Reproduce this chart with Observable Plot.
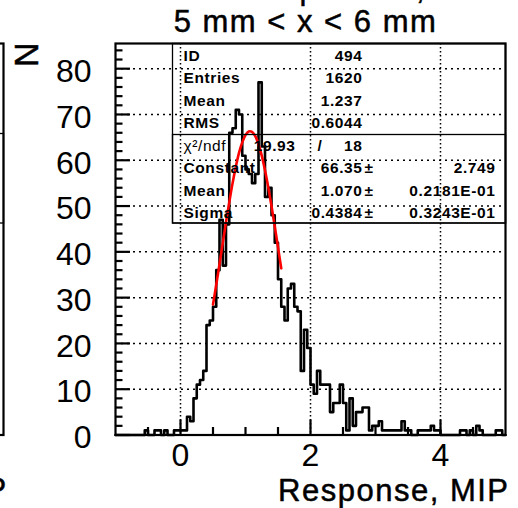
<!DOCTYPE html>
<html><head><meta charset="utf-8">
<script src="https://cdn.jsdelivr.net/npm/d3@7"></script>
<script src="https://cdn.jsdelivr.net/npm/@observablehq/plot@0.6"></script>
<style>html,body{margin:0;padding:0;background:#fff;} #chart{position:relative;width:518px;height:508px} #chart svg{display:block} #ticks{position:absolute;left:0;top:0;pointer-events:none}</style>
</head><body><div id="chart"><div id="ticks"></div></div>
<script>
// ---- data ----
const title = "5 mm < x < 6 mm";
const xLabel = "Response, MIP";
const yLabel = "N";
const binStart = -1;
const binWidth = 0.05;
const counts = [
  0,0,0,0,0,0,0,0,0,1, 0,0,1,1,0,1,0,0,1,1,
  1,1,4,3,8,11,12,14,24,25,
  28,36,47,37,46,66,67,71,70,61,
  58,57,55,57,77,63,52,54,48,42,
  34,28,25,32,33,28,27,14,23,19,
  11,9,14,11,11,11,5,7,7,11,
  7,1,8,2,5,5,6,6,1,2,
  2,3,1,1,1,1,1,1,3,1,
  1,0,0,1,1,1,1,2,1,1,
  0,0,0,0,0,0,1,1,0,1,
  0,2,1,0,0,0,0,1,1,0
];
const fitX = [0.50,0.55,0.60,0.65,0.70,0.75,0.80,0.85,0.90,0.95,1.00,1.05,1.10,1.15,1.20,1.25,1.30,1.35,1.40,1.45,1.50,1.55];
const fitY = [28.5,32.8,37.3,41.9,46.5,50.8,54.9,58.5,61.6,63.9,65.5,66.3,66.2,65.3,63.5,61.0,57.8,54.1,50.0,45.6,41.0,36.4];
const xMajorTicks = [0, 2, 4];
const xMinorTicks = [-0.5, 0.5, 1, 1.5, 2.5, 3, 3.5, 4.5];
const yMajorTicks = [0, 10, 20, 30, 40, 50, 60, 70, 80];
const yMinorTicks = [2,4,6,8,12,14,16,18,22,24,26,28,32,34,36,38,42,44,46,48,52,54,56,58,62,64,66,68,72,74,76,78,82,84];
const xGrid = [0, 2, 4];
const yGrid = [10, 20, 30, 40, 50, 60, 70, 80];
const statLabels = ["ID","Entries","Mean","RMS","χ²/ndf","Constant","Mean","Sigma"];
const statValues = ["494","1620","1.237","0.6044","18","66.35","1.070","0.4384"];
const statChi2 = "19.93";
const statPm = ["","","","","","±","±","±"];
const statErrors = ["","","","","","2.749","0.2181E-01","0.3243E-01"];
const prevPanelText = "P";
const prevTitleFragments = ["p", ","];

// ---- derived tables ----
const X_DOMAIN = [-1, 5], Y_DOMAIN = [0, 85.5];
const FRAME_W = 390, FRAME_H = 391.5;
const yPerPx = (Y_DOMAIN[1] - Y_DOMAIN[0]) / FRAME_H;
const xPerPx = (X_DOMAIN[1] - X_DOMAIN[0]) / FRAME_W;
const hist = counts.map((c, i) => ({x: binStart + i * binWidth, y: c}));
hist.push({x: binStart + counts.length * binWidth, y: counts[counts.length - 1]});
const fit = fitX.map((x, i) => ({x, y: fitY[i]}));

const FONT = "'Liberation Sans', Arial, Helvetica, sans-serif";
const LAYOUT = {width: 518, height: 508, marginLeft: 115, marginRight: 13, marginTop: 43, marginBottom: 73.5};

const statMarks = [];
const st = {frameAnchor: "top-left", lineAnchor: "bottom", fontSize: 15.5, fontWeight: "bold", fill: "black", ariaDescription: "stat", text: d => d};
statLabels.forEach((lab, i) => {
  const dy = 17 + i * 22.5;
  const isChi = lab.startsWith("χ");
  statMarks.push(Plot.text([lab], {...st, textAnchor: "start", dx: 68, dy, fontWeight: isChi ? "normal" : "bold"}));
  statMarks.push(Plot.text([statValues[i]], {...st, textAnchor: "end", dx: 247, dy}));
  if (statPm[i]) statMarks.push(Plot.text([statPm[i]], {...st, textAnchor: "start", dx: 249, dy}));
  if (statErrors[i]) statMarks.push(Plot.text([statErrors[i]], {...st, textAnchor: "end", dx: 380, dy}));
  if (isChi) {
    statMarks.push(Plot.text([statChi2], {...st, textAnchor: "end", dx: 180, dy}));
    statMarks.push(Plot.text(["/"], {...st, textAnchor: "start", dx: 202, dy}));
  }
});
const big = {text: d => d, fontSize: 31, fill: "black", stroke: "black", strokeWidth: 0.5, ariaDescription: "big"};

const chart = Plot.plot({
  ...LAYOUT,
  style: {fontFamily: FONT, background: "white"},
  x: {domain: X_DOMAIN},
  y: {domain: Y_DOMAIN},
  marks: [
    Plot.ruleY(yGrid, {stroke: "black", strokeWidth: 1.5, strokeDasharray: "2,4"}),
    Plot.ruleX(xGrid, {stroke: "black", strokeWidth: 1.5, strokeDasharray: "1.5,2.5"}),
    Plot.line(hist, {x: "x", y: "y", curve: "step-after", stroke: "black", strokeWidth: 2.6}),
    Plot.line(fit, {x: "x", y: "y", curve: "catmull-rom", stroke: "#ff0000", strokeWidth: 2.6}),
    Plot.frame({stroke: "black", strokeWidth: 2.2}),
    Plot.frame({stroke: "black", strokeWidth: 1.3, insetLeft: 57, insetBottom: 212}),
    Plot.frame({stroke: "black", strokeWidth: 1.3, insetLeft: 57, insetTop: 91, insetBottom: 212}),
    Plot.frame({stroke: "black", strokeWidth: 2.2, insetLeft: -130, insetRight: 502}),
    Plot.frame({stroke: "black", strokeWidth: 1.3, insetLeft: -130, insetRight: 502, insetTop: 90, insetBottom: 212}),
    Plot.axisX(xMajorTicks, {anchor: "bottom", tickSize: 0, tickPadding: 8, fontSize: 32, label: null, tickFormat: d => String(d), stroke: "black", strokeWidth: 0.5}),
    Plot.axisY(yMajorTicks, {anchor: "left", tickSize: 0, tickPadding: 24, fontSize: 32, dy: 3, label: null, tickFormat: d => String(d), stroke: "black", strokeWidth: 0.5}),
    Plot.text([title], {...big, frameAnchor: "top", lineAnchor: "bottom", dx: -5, dy: -11.3}),
    Plot.text([xLabel], {...big, frameAnchor: "bottom-right", textAnchor: "end", lineAnchor: "bottom", dx: 4, dy: 65.5}),
    Plot.text([yLabel], {...big, frameAnchor: "top-left", textAnchor: "end", lineAnchor: "bottom", rotate: -90, dx: -78, dy: -2.5, fontSize: 34}),
    Plot.text([prevPanelText], {...big, frameAnchor: "bottom-left", textAnchor: "start", lineAnchor: "bottom", dx: -130, dy: 64.5}),
    Plot.text([prevTitleFragments[0]], {...big, frameAnchor: "top-left", textAnchor: "start", lineAnchor: "bottom", dx: 184, dy: -44.5}),
    Plot.text([prevTitleFragments[1]], {...big, frameAnchor: "top-left", textAnchor: "start", lineAnchor: "bottom", dx: 300.5, dy: -44.5}),
    ...statMarks
  ]
});
document.getElementById("chart").insertBefore(chart, document.getElementById("ticks"));
d3.select(chart).selectAll('g[aria-description="big"] text').style("letter-spacing", "1.5px");
d3.select(chart).selectAll('g[aria-description="stat"] text').style("letter-spacing", "0.6px");

// inward axis ticks, drawn by a second plot with the same scales, overlaid on the first
const tickPlot = Plot.plot({
  ...LAYOUT,
  x: {domain: X_DOMAIN, axis: null},
  y: {domain: Y_DOMAIN, axis: null},
  marks: [
    Plot.ruleX(xMajorTicks, {x: d => d, y1: Y_DOMAIN[0], y2: Y_DOMAIN[0] + 15 * yPerPx, stroke: "black", strokeWidth: 2.2}),
    Plot.ruleX(xMinorTicks, {x: d => d, y1: Y_DOMAIN[0], y2: Y_DOMAIN[0] + 7.5 * yPerPx, stroke: "black", strokeWidth: 2.2}),
    Plot.ruleY(yMajorTicks, {y: d => d, x1: X_DOMAIN[0], x2: X_DOMAIN[0] + 15 * xPerPx, stroke: "black", strokeWidth: 2.2}),
    Plot.ruleY(yMinorTicks, {y: d => d, x1: X_DOMAIN[0], x2: X_DOMAIN[0] + 7.5 * xPerPx, stroke: "black", strokeWidth: 2.2})
  ]
});
tickPlot.style.background = "transparent";
document.getElementById("ticks").appendChild(tickPlot);
</script>
</body></html>
